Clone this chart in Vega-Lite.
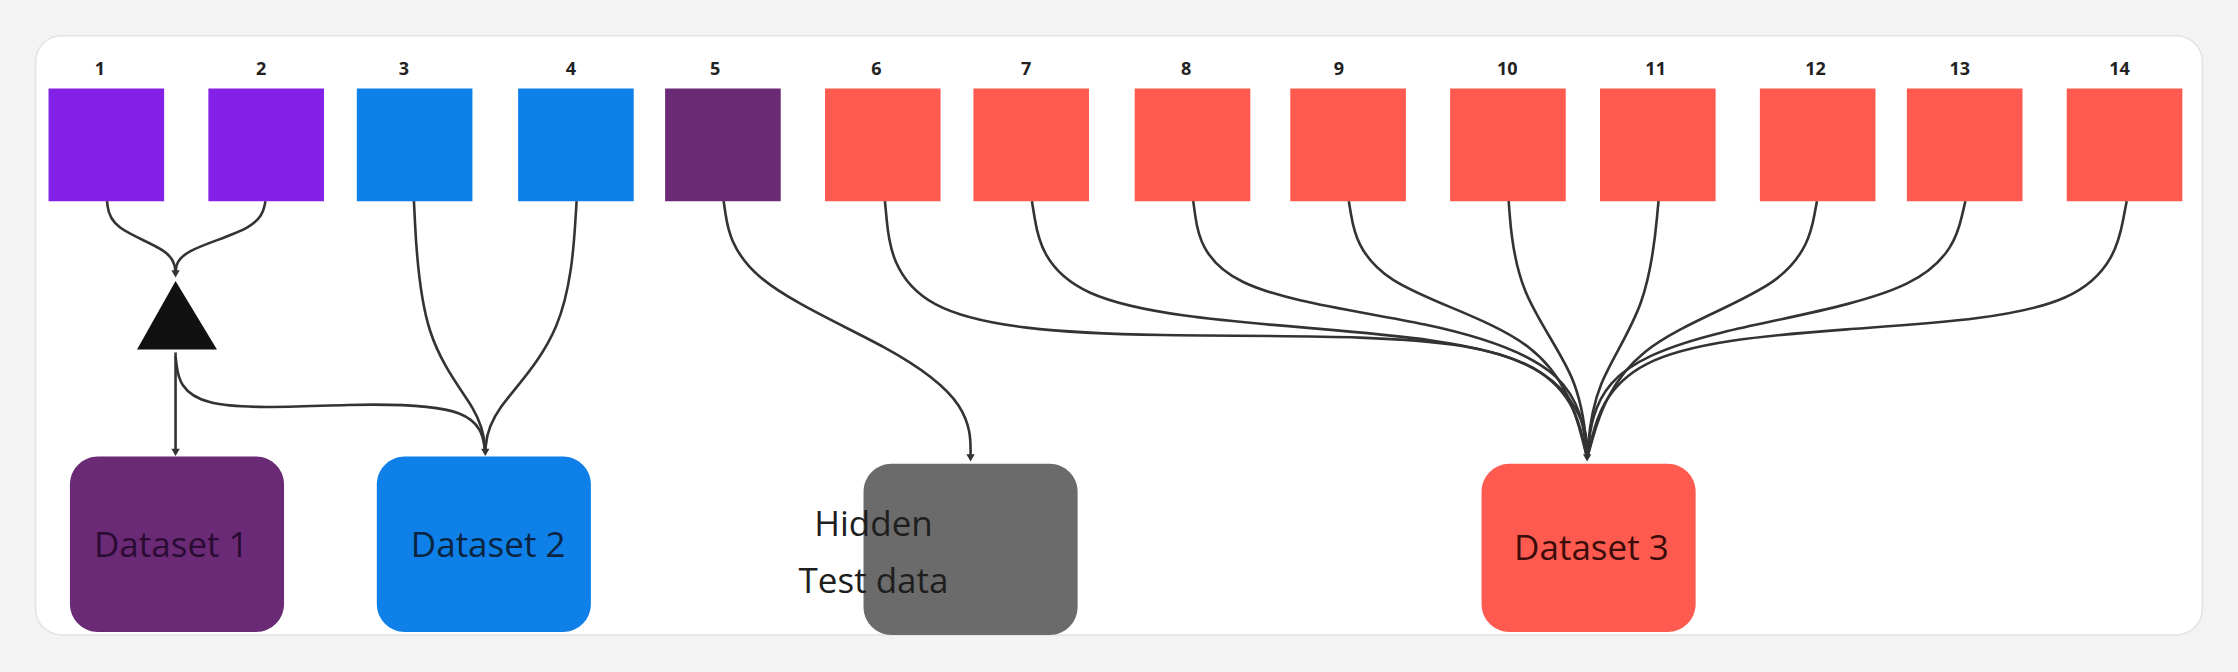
{
  "$schema": "https://vega.github.io/schema/vega-lite/v6.json",
  "width": 2238,
  "height": 672,
  "autosize": {"type": "fit", "contains": "padding"},
  "padding": 0,
  "background": "#f3f3f3",
  "config": {"view": {"stroke": null}, "axis": {"disable": true}},
  "datasets": {
    "card": [{"x": 25, "x2": 1543, "y": 25, "y2": 445}],
    "squares": [
      {"id": "1", "x": 34, "x2": 115, "lx": 70, "c": "#8322E6"},
      {"id": "2", "x": 146, "x2": 227, "lx": 183, "c": "#8322E6"},
      {"id": "3", "x": 250, "x2": 331, "lx": 283, "c": "#0F80E8"},
      {"id": "4", "x": 363, "x2": 444, "lx": 400, "c": "#0F80E8"},
      {"id": "5", "x": 466, "x2": 547, "lx": 501, "c": "#6B2A75"},
      {"id": "6", "x": 578, "x2": 659, "lx": 614, "c": "#FF5A4F"},
      {"id": "7", "x": 682, "x2": 763, "lx": 719, "c": "#FF5A4F"},
      {"id": "8", "x": 795, "x2": 876, "lx": 831, "c": "#FF5A4F"},
      {"id": "9", "x": 904, "x2": 985, "lx": 938, "c": "#FF5A4F"},
      {"id": "10", "x": 1016, "x2": 1097, "lx": 1056, "c": "#FF5A4F"},
      {"id": "11", "x": 1121, "x2": 1202, "lx": 1160, "c": "#FF5A4F"},
      {"id": "12", "x": 1233, "x2": 1314, "lx": 1272, "c": "#FF5A4F"},
      {"id": "13", "x": 1336, "x2": 1417, "lx": 1373, "c": "#FF5A4F"},
      {"id": "14", "x": 1448, "x2": 1529, "lx": 1485, "c": "#FF5A4F"}
    ],
    "boxes": [
      {"x": 49, "x2": 199, "y": 320, "y2": 443, "c": "#6B2A75"},
      {"x": 264, "x2": 414, "y": 320, "y2": 443, "c": "#0F80E8"},
      {"x": 605, "x2": 755, "y": 325, "y2": 445, "c": "#6B6B6B"},
      {"x": 1038, "x2": 1188, "y": 325, "y2": 443, "c": "#FF5A4F"}
    ],
    "boxText": [
      {"t": "Dataset 1", "x": 120, "y": 383, "a": "center", "c": "#2a0c33"},
      {"t": "Dataset 2", "x": 342, "y": 383, "a": "center", "c": "#0b2440"},
      {"t": "Hidden", "x": 612, "y": 368, "a": "left", "c": "#1e1e1e"},
      {"t": "Test data", "x": 612, "y": 408, "a": "left", "c": "#1e1e1e"},
      {"t": "Dataset 3", "x": 1115, "y": 385, "a": "center", "c": "#3a0d0a"}
    ],
    "tri": [
      {"x": 96, "y": 245}, {"x": 123, "y": 197}, {"x": 152, "y": 245}
    ],
    "arrows": [
      {"x": 123, "y": 192}, {"x": 123, "y": 317}, {"x": 340, "y": 317},
      {"x": 680, "y": 321}, {"x": 1112, "y": 321}
    ],
    "edges": [
      {"e": "a1", "i": 0, "x": 75, "y": 141}, {"e": "a1", "i": 1, "x": 77, "y": 160}, {"e": "a1", "i": 2, "x": 122, "y": 176}, {"e": "a1", "i": 3, "x": 123, "y": 192},
      {"e": "a2", "i": 0, "x": 186, "y": 141}, {"e": "a2", "i": 1, "x": 182, "y": 160}, {"e": "a2", "i": 2, "x": 124, "y": 176}, {"e": "a2", "i": 3, "x": 123, "y": 192},
      {"e": "a3", "i": 0, "x": 290, "y": 141}, {"e": "a3", "i": 1, "x": 295, "y": 240}, {"e": "a3", "i": 2, "x": 338, "y": 290}, {"e": "a3", "i": 3, "x": 340, "y": 317},
      {"e": "a4", "i": 0, "x": 404, "y": 141}, {"e": "a4", "i": 1, "x": 398, "y": 235}, {"e": "a4", "i": 2, "x": 342, "y": 290}, {"e": "a4", "i": 3, "x": 340, "y": 317},
      {"e": "t2", "i": 0, "x": 123, "y": 250}, {"e": "t2", "i": 1, "x": 128, "y": 290}, {"e": "t2", "i": 2, "x": 250, "y": 282}, {"e": "t2", "i": 3, "x": 335, "y": 285}, {"e": "t2", "i": 4, "x": 340, "y": 317},
      {"e": "t1", "i": 0, "x": 123, "y": 247}, {"e": "t1", "i": 1, "x": 123, "y": 317},
      {"e": "a5", "i": 0, "x": 507, "y": 141}, {"e": "a5", "i": 1, "x": 515, "y": 195}, {"e": "a5", "i": 2, "x": 630, "y": 245}, {"e": "a5", "i": 3, "x": 680, "y": 285}, {"e": "a5", "i": 4, "x": 680, "y": 321},
      {"e": "a6", "i": 0, "x": 620, "y": 141}, {"e": "a6", "i": 1, "x": 628, "y": 225}, {"e": "a6", "i": 2, "x": 800, "y": 238}, {"e": "a6", "i": 3, "x": 1060, "y": 232}, {"e": "a6", "i": 4, "x": 1112, "y": 290}, {"e": "a6", "i": 5, "x": 1112, "y": 321},
      {"e": "a7", "i": 0, "x": 723, "y": 141}, {"e": "a7", "i": 1, "x": 735, "y": 215}, {"e": "a7", "i": 2, "x": 920, "y": 230}, {"e": "a7", "i": 3, "x": 1095, "y": 245}, {"e": "a7", "i": 4, "x": 1112, "y": 321},
      {"e": "a8", "i": 0, "x": 836, "y": 141}, {"e": "a8", "i": 1, "x": 845, "y": 205}, {"e": "a8", "i": 2, "x": 1010, "y": 225}, {"e": "a8", "i": 3, "x": 1105, "y": 260}, {"e": "a8", "i": 4, "x": 1112, "y": 321},
      {"e": "a9", "i": 0, "x": 945, "y": 141}, {"e": "a9", "i": 1, "x": 955, "y": 200}, {"e": "a9", "i": 2, "x": 1090, "y": 235}, {"e": "a9", "i": 3, "x": 1112, "y": 321},
      {"e": "a10", "i": 0, "x": 1057, "y": 141}, {"e": "a10", "i": 1, "x": 1062, "y": 205}, {"e": "a10", "i": 2, "x": 1108, "y": 265}, {"e": "a10", "i": 3, "x": 1112, "y": 321},
      {"e": "a11", "i": 0, "x": 1162, "y": 141}, {"e": "a11", "i": 1, "x": 1155, "y": 215}, {"e": "a11", "i": 2, "x": 1116, "y": 270}, {"e": "a11", "i": 3, "x": 1112, "y": 321},
      {"e": "a12", "i": 0, "x": 1273, "y": 141}, {"e": "a12", "i": 1, "x": 1262, "y": 200}, {"e": "a12", "i": 2, "x": 1135, "y": 240}, {"e": "a12", "i": 3, "x": 1112, "y": 321},
      {"e": "a13", "i": 0, "x": 1377, "y": 141}, {"e": "a13", "i": 1, "x": 1362, "y": 205}, {"e": "a13", "i": 2, "x": 1190, "y": 232}, {"e": "a13", "i": 3, "x": 1118, "y": 265}, {"e": "a13", "i": 4, "x": 1112, "y": 321},
      {"e": "a14", "i": 0, "x": 1490, "y": 141}, {"e": "a14", "i": 1, "x": 1475, "y": 220}, {"e": "a14", "i": 2, "x": 1290, "y": 230}, {"e": "a14", "i": 3, "x": 1130, "y": 245}, {"e": "a14", "i": 4, "x": 1112, "y": 321}
    ]
  },
  "layer": [
    {
      "data": {"name": "card"},
      "mark": {"type": "rect", "fill": "white", "cornerRadius": 26, "stroke": "#e2e2e2", "strokeWidth": 1.5},
      "encoding": {
        "x": {"field": "x", "type": "quantitative", "scale": {"domain": [0, 1568], "nice": false, "zero": false}},
        "x2": {"field": "x2"},
        "y": {"field": "y", "type": "quantitative", "scale": {"domain": [0, 471], "nice": false, "zero": false, "reverse": true}},
        "y2": {"field": "y2"}
      }
    },
    {
      "data": {"name": "squares"},
      "mark": {"type": "rect"},
      "encoding": {
        "x": {"field": "x", "type": "quantitative"},
        "x2": {"field": "x2"},
        "y": {"datum": 62, "type": "quantitative"},
        "y2": {"datum": 141},
        "fill": {"field": "c", "type": "nominal", "scale": null}
      }
    },
    {
      "data": {"name": "squares"},
      "mark": {"type": "text", "fontSize": 18, "fontWeight": "bold", "font": "Open Sans", "color": "#222"},
      "encoding": {
        "x": {"field": "lx", "type": "quantitative"},
        "y": {"datum": 49, "type": "quantitative"},
        "text": {"field": "id"}
      }
    },
    {
      "data": {"name": "boxes"},
      "mark": {"type": "rect", "cornerRadius": 28},
      "encoding": {
        "x": {"field": "x", "type": "quantitative"},
        "x2": {"field": "x2"},
        "y": {"field": "y", "type": "quantitative"},
        "y2": {"field": "y2"},
        "fill": {"field": "c", "type": "nominal", "scale": null}
      }
    },
    {
      "data": {"name": "boxText"},
      "mark": {"type": "text", "fontSize": 35, "font": "Open Sans", "baseline": "middle"},
      "encoding": {
        "x": {"field": "x", "type": "quantitative"},
        "y": {"field": "y", "type": "quantitative"},
        "text": {"field": "t"},
        "align": {"field": "a", "type": "nominal", "scale": null},
        "color": {"field": "c", "type": "nominal", "scale": null}
      }
    },
    {
      "data": {"name": "edges"},
      "mark": {"type": "line", "interpolate": "basis", "color": "#333", "strokeWidth": 2.6},
      "encoding": {
        "x": {"field": "x", "type": "quantitative"},
        "y": {"field": "y", "type": "quantitative"},
        "detail": {"field": "e"},
        "order": {"field": "i"}
      }
    },
    {
      "data": {"name": "arrows"},
      "mark": {"type": "point", "shape": "triangle-down", "filled": true, "color": "#333", "size": 70, "opacity": 1},
      "encoding": {
        "x": {"field": "x", "type": "quantitative"},
        "y": {"field": "y", "type": "quantitative"}
      }
    },
    {
      "data": {"name": "tri"},
      "mark": {"type": "area", "color": "#111", "opacity": 1},
      "encoding": {
        "x": {"field": "x", "type": "quantitative"},
        "y": {"field": "y", "type": "quantitative"},
        "y2": {"datum": 245}
      }
    }
  ]
}
